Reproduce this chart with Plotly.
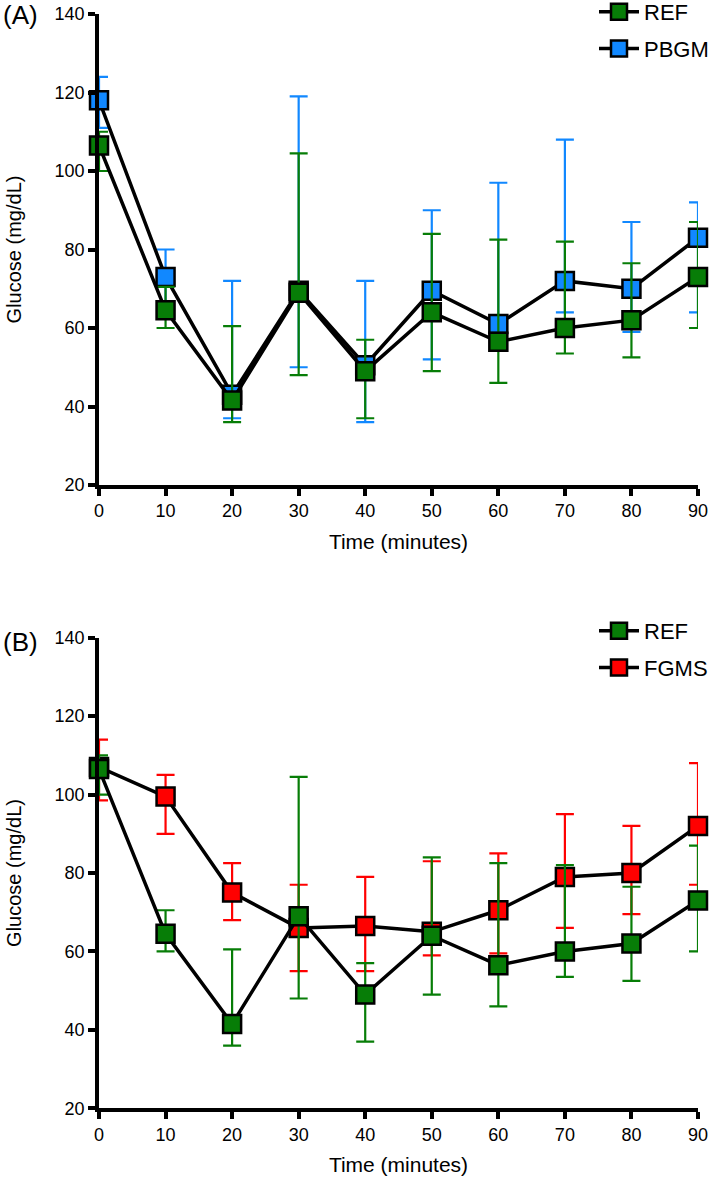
import numpy as np
import plotly.graph_objects as go

# 時間（分）
minutes = [0, 10, 20, 30, 40, 50, 60, 70, 80, 90]

# REF（平均と誤差範囲の上端・下端）
ref_mean = [106.5, 64.5, 41.5, 69, 49, 64, 56.5, 60, 62, 73]
ref_upper = [110, 70.5, 60.5, 104.5, 57, 84, 82.5, 82, 76.5, 87]
ref_lower = [100, 60, 36, 48, 37, 49, 46, 53.5, 52.5, 60]

# PBGM
pbgm_mean = [118, 73, 43, 69.5, 50.5, 69.5, 61, 72, 70, 83]
pbgm_upper = [124, 80, 72, 119, 72, 90, 97, 108, 87, 92]
pbgm_lower = [111, 66, 37, 50, 36, 52, 56, 64, 59, 64]

# FGMS
fgms_mean = [107, 99.5, 75, 66, 66.5, 65, 70.5, 79, 80, 92]
fgms_upper = [114, 105, 82.5, 77, 79, 83, 85, 95, 92, 108]
fgms_lower = [98.5, 90, 68, 55, 55, 59, 59.5, 66, 69.5, 77]

y_ticks = [20, 40, 60, 80, 100, 120, 140]

GREEN = "#077D07"
BLUE = "#1188FF"
RED = "#FF0000"
FONT = "Liberation Sans"

W, H = 709, 1179


def px_x(p):  # ピクセルx座標 -> paper座標
    return p / W


def px_y(p):  # ピクセルy座標 -> paper座標
    return 1 - p / H


def series(name, mean, upper, lower, color, xaxis, yaxis, legend, rank):
    mean = np.array(mean, dtype=float)
    return go.Scatter(
        x=minutes, y=mean, name=name,
        mode="lines+markers",
        line=dict(color="black", width=3.5),
        marker=dict(symbol="square", size=18, color=color,
                    line=dict(color="black", width=2.5)),
        error_y=dict(type="data", symmetric=False,
                     array=np.array(upper) - mean,
                     arrayminus=mean - np.array(lower),
                     color=color, thickness=2.2, width=9),
        cliponaxis=False,
        xaxis=xaxis, yaxis=yaxis, legend=legend,
        legendgroup=name + legend, legendrank=rank,
    )


fig = go.Figure()
# 描画順：比較対象を先に、REFを上に重ねる
fig.add_trace(series("PBGM", pbgm_mean, pbgm_upper, pbgm_lower, BLUE, "x", "y", "legend", 2))
fig.add_trace(series("REF", ref_mean, ref_upper, ref_lower, GREEN, "x", "y", "legend", 1))
fig.add_trace(series("FGMS", fgms_mean, fgms_upper, fgms_lower, RED, "x2", "y2", "legend2", 2))
fig.add_trace(series("REF", ref_mean, ref_upper, ref_lower, GREEN, "x2", "y2", "legend2", 1))

x_dom = [px_x(99), px_x(698)]
dom_a = [px_y(485), px_y(14)]
dom_b = [px_y(1108.3), px_y(637.7)]

axis_common = dict(
    showline=True, linewidth=3.5, linecolor="black",
    ticks="outside", ticklen=7, tickwidth=3.5, tickcolor="black",
    showgrid=False, zeroline=False, automargin=False,
    ticklabeloverflow="allow",
    tickfont=dict(family=FONT, size=18, color="black"),
)

xa = dict(axis_common, range=[0, 90], tickvals=minutes, domain=x_dom,
          title=dict(text="Time (minutes)", font=dict(family=FONT, size=21, color="black"), standoff=15))
ya = dict(axis_common, range=[20, 140], tickvals=y_ticks,
          title=dict(text="Glucose (mg/dL)", font=dict(family=FONT, size=20, color="black"), standoff=29))

legend_common = dict(
    xanchor="left", yanchor="top",
    font=dict(family=FONT, size=22, color="black"),
    traceorder="grouped", tracegroupgap=5, itemwidth=40,
    bgcolor="rgba(0,0,0,0)",
)

fig.update_layout(
    width=W, height=H,
    margin=dict(l=0, r=0, t=0, b=0, autoexpand=False),
    paper_bgcolor="white", plot_bgcolor="white",
    xaxis=dict(xa, anchor="y"),
    yaxis=dict(ya, domain=dom_a, anchor="x"),
    xaxis2=dict(xa, anchor="y2"),
    yaxis2=dict(ya, domain=dom_b, anchor="x2"),
    legend=dict(legend_common, x=px_x(594), y=px_y(-9)),
    legend2=dict(legend_common, x=px_x(594), y=px_y(610)),
    annotations=[
        dict(text="(A)", x=px_x(1), y=px_y(15), xref="paper", yref="paper",
             xanchor="left", yanchor="middle", showarrow=False,
             font=dict(family=FONT, size=26, color="black")),
        dict(text="(B)", x=px_x(1), y=px_y(642), xref="paper", yref="paper",
             xanchor="left", yanchor="middle", showarrow=False,
             font=dict(family=FONT, size=26, color="black")),
    ],
)

# ページ既定の余白(8px)を消して図を左上に合わせる、モードバーは非表示
fig.write_html("out.html", config={"displayModeBar": False},
               post_script="document.body.style.margin='0';")
